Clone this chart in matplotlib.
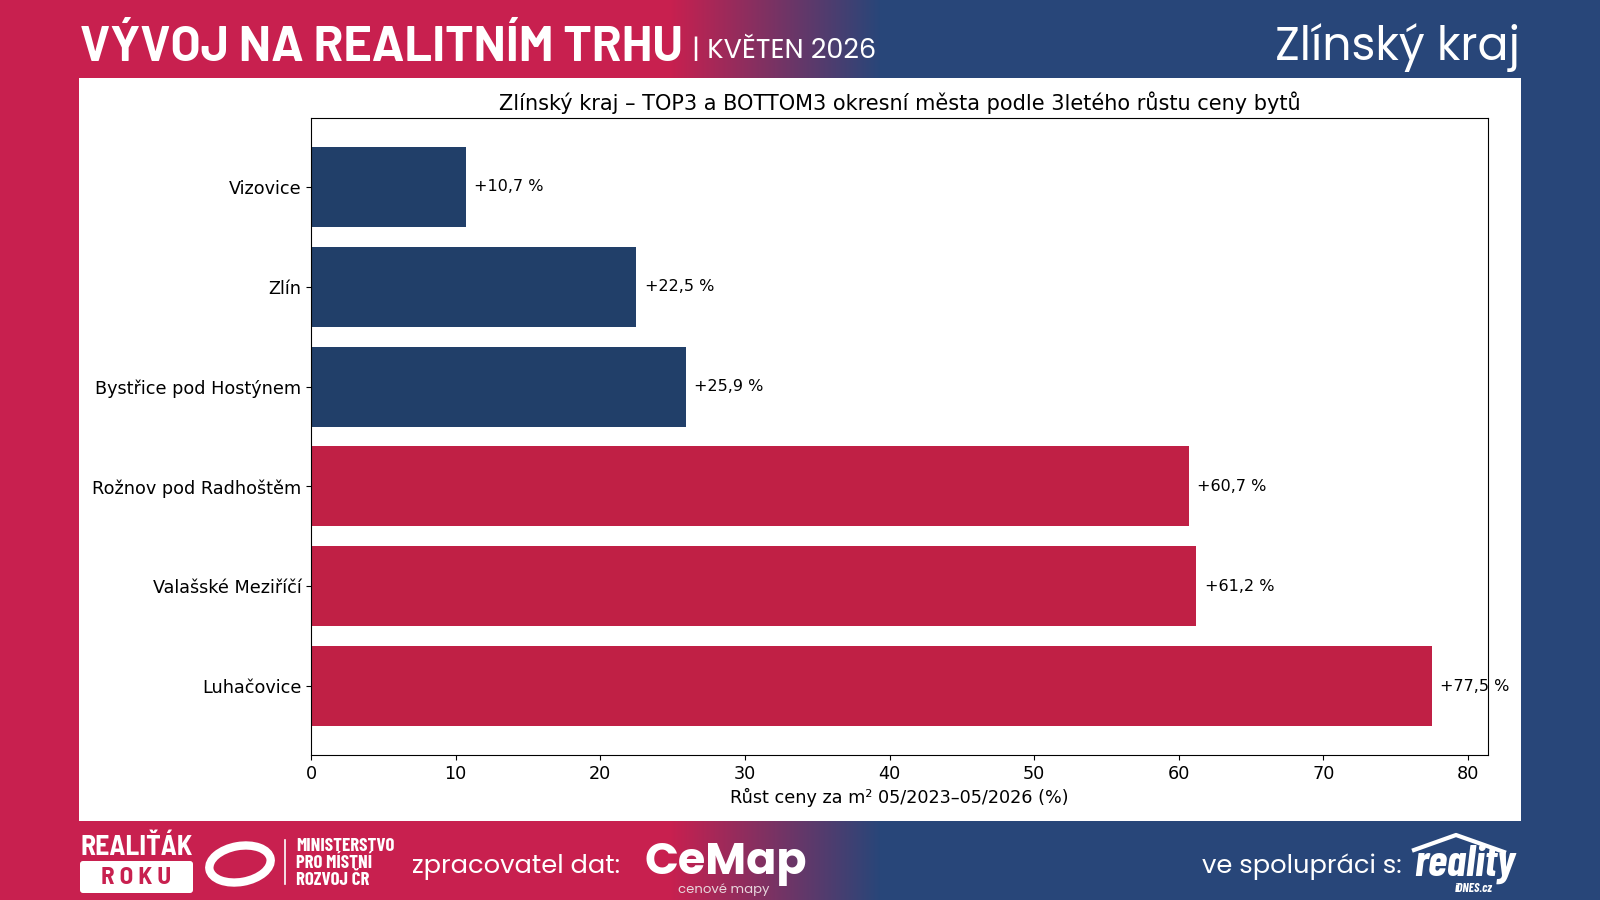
import numpy as np
import matplotlib
matplotlib.use("Agg")
import matplotlib.pyplot as plt
from matplotlib.patches import Rectangle, FancyBboxPatch, Ellipse
from matplotlib.colors import to_rgb

# data
cities = ["Vizovice", "Zlín", "Bystřice pod Hostýnem",
          "Rožnov pod Radhoštěm", "Valašské Meziříčí", "Luhačovice"]
growth = [10.7, 22.5, 25.9, 60.7, 61.2, 77.5]
group = ["bottom", "bottom", "bottom", "top", "top", "top"]

chart_title = "Zlínský kraj – TOP3 a BOTTOM3 okresní města podle 3letého růstu ceny bytů"
x_label = "Růst ceny za m² 05/2023–05/2026 (%)"

CRIMSON = "#c8204f"
NAVY = "#284679"
BAR_NAVY = "#213f69"
BAR_RED = "#c02045"

HEAD = ["Barlow", "Barlow Semi Condensed", "DejaVu Sans"]
COND = ["Barlow Semi Condensed", "DejaVu Sans"]
NARROW = ["Barlow Condensed", "DejaVu Sans"]
GEO = ["Poppins", "Open Sans", "DejaVu Sans"]

fig = plt.figure(figsize=(16, 9), dpi=100)

# background: crimson -> navy gradient
bg = fig.add_axes([0, 0, 1, 1], zorder=0)
bg.set_xlim(0, 1600)
bg.set_ylim(900, 0)
bg.axis("off")
xs = np.arange(1600)
t = np.clip((xs - 670) / (880 - 670), 0, 1)
c1 = np.array(to_rgb(CRIMSON))
c2 = np.array(to_rgb(NAVY))
grad = (1 - t)[:, None] * c1 + t[:, None] * c2
bg.imshow(grad[None, :, :], extent=[0, 1600, 900, 0], aspect="auto", zorder=0)

# white panel
bg.add_patch(Rectangle((79, 78), 1442, 743, facecolor="white", edgecolor="none", zorder=1))

# header
bg.text(80, 61, "VÝVOJ NA REALITNÍM TRHU", color="white", fontsize=35, fontweight="bold",
        family=HEAD, va="baseline", ha="left")
bg.text(692, 58, "| KVĚTEN 2026", color="white", fontsize=19.5, family=GEO,
        va="baseline", ha="left")
bg.text(1520, 60, "Zlínský kraj", color="white", fontsize=33, family=GEO,
        va="baseline", ha="right")

# footer
bg.text(80, 855, "REALIŤÁK", color="white", fontsize=20, fontweight="bold",
        family=COND, va="baseline", ha="left")
bg.add_patch(FancyBboxPatch((80, 861), 113, 32, boxstyle="round,pad=0,rounding_size=3",
                            facecolor="white", edgecolor="none", zorder=2))
bg.text(136, 878, "R O K U", color=CRIMSON, fontsize=18, fontweight="bold",
        family=COND, va="center", ha="center", zorder=3)
bg.add_patch(Ellipse((240, 864), 62, 36, angle=-10, facecolor="none", edgecolor="white", lw=6, zorder=2))
bg.plot([285, 285], [840, 884], color="white", lw=1.2, zorder=2)
for i, line in enumerate(["MINISTERSTVO", "PRO MÍSTNÍ", "ROZVOJ ČR"]):
    bg.text(296, 851 + i * 17, line, color="white", fontsize=13.5, fontweight="bold",
            family=NARROW, va="baseline", ha="left")
bg.text(412, 873, "zpracovatel dat:", color="white", fontsize=18.5, family=GEO,
        va="baseline", ha="left")
bg.text(644, 874, "CeMap", color="white", fontsize=32, fontweight="bold",
        family=GEO, va="baseline", ha="left")
bg.text(724, 893, "cenové mapy", color="#e8d6dc", fontsize=9.5, family=GEO,
        va="baseline", ha="center")
bg.text(1202, 873, "ve spolupráci s:", color="white", fontsize=18.5, family=GEO,
        va="baseline", ha="left")
bg.text(1414, 876, "reality", color="white", fontsize=32, fontweight="bold", style="italic",
        family=NARROW, va="baseline", ha="left")
bg.text(1474, 892, "iDNES.cz", color="white", fontsize=9, fontweight="bold", style="italic",
        family=NARROW, va="baseline", ha="center")
bg.plot([1414, 1456, 1504], [850, 835, 852], color="white", lw=3, zorder=2)

# chart
ax = fig.add_axes([311 / 1600, 1 - 755 / 900, (1488 - 311) / 1600, (755 - 118) / 900], zorder=2)
colors = [BAR_NAVY if g == "bottom" else BAR_RED for g in group]
ypos = np.arange(len(cities))
ax.barh(ypos, growth, color=colors, height=0.8)
ax.set_yticks(ypos)
ax.set_yticklabels(cities, fontsize=12.7)
ax.invert_yaxis()
ax.tick_params(axis="x", labelsize=12.7)
for y, v in zip(ypos, growth):
    ax.annotate("+" + f"{v:.1f}".replace(".", ",") + " %", (v, y), xytext=(6, 0),
                textcoords="offset points", va="center", ha="left", fontsize=11.5, clip_on=False)
ax.set_title(chart_title, fontsize=15)
ax.set_xlabel(x_label, fontsize=12.7)
ax.set_xlim(0, 81.375)

fig.savefig("out.png", dpi=100)
